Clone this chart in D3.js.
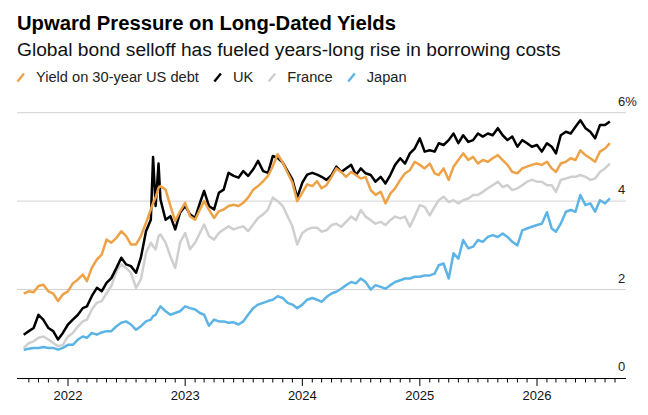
<!DOCTYPE html>
<html><head><meta charset="utf-8">
<script src="https://cdn.jsdelivr.net/npm/d3@7"></script>
<style>
html,body{margin:0;padding:0;background:#fff;}
svg{display:block;font-family:"Liberation Sans",Arial,sans-serif;}
</style></head>
<body><svg id="c" width="648" height="415"></svg>
<script>
const title = "Upward Pressure on Long-Dated Yields";
const subtitle = "Global bond selloff has fueled years-long rise in borrowing costs";
const seriesNames = ["Yield on 30-year US debt", "UK", "France", "Japan"];
const yTicks = [0, 2, 4, 6];
const yearTicks = ["2022", "2023", "2024", "2025", "2026"];

const dates = [
"2021-08-16","2021-09-01","2021-09-16","2021-10-01","2021-10-16","2021-11-01","2021-11-16","2021-12-01","2021-12-16",
"2022-01-01","2022-01-16","2022-02-01","2022-02-16","2022-03-01","2022-03-16","2022-04-01","2022-04-16","2022-05-01","2022-05-16","2022-06-01","2022-06-16","2022-07-01","2022-07-16","2022-08-01","2022-08-16","2022-09-01","2022-09-16","2022-09-23","2022-10-01","2022-10-10","2022-10-16","2022-11-01","2022-11-16","2022-12-01","2022-12-16",
"2023-01-01","2023-01-16","2023-02-01","2023-02-16","2023-03-01","2023-03-16","2023-04-01","2023-04-16","2023-05-01","2023-05-16","2023-06-01","2023-06-16","2023-07-01","2023-07-16","2023-08-01","2023-08-16","2023-09-01","2023-09-16","2023-10-01","2023-10-16","2023-11-01","2023-11-16","2023-12-01","2023-12-16",
"2024-01-01","2024-01-16","2024-02-01","2024-02-16","2024-03-01","2024-03-16","2024-04-01","2024-04-16","2024-05-01","2024-05-16","2024-06-01","2024-06-16","2024-07-01","2024-07-16","2024-08-01","2024-08-16","2024-09-01","2024-09-16","2024-10-01","2024-10-16","2024-11-01","2024-11-16","2024-12-01","2024-12-16",
"2025-01-01","2025-01-16","2025-02-01","2025-02-16","2025-03-01","2025-03-16","2025-04-01","2025-04-16","2025-05-01","2025-05-16","2025-06-01","2025-06-16","2025-07-01","2025-07-16","2025-08-01","2025-08-16","2025-09-01","2025-09-16","2025-10-01","2025-10-16","2025-11-01","2025-11-16","2025-12-01","2025-12-16",
"2026-01-01","2026-01-16","2026-02-01","2026-02-16","2026-03-01","2026-03-16","2026-04-01","2026-04-16","2026-05-01","2026-05-16","2026-06-01","2026-06-16","2026-07-01","2026-07-16","2026-08-01","2026-08-16"
];

const usYield = [
1.91,1.96,1.94,2.08,2.11,1.96,1.91,1.74,1.89,
1.96,2.14,2.23,2.34,2.19,2.49,2.68,2.79,3.13,3.06,3.17,3.32,3.21,3.02,3.02,3.21,3.51,3.81,3.96,4.08,4.30,4.34,4.26,3.89,3.55,3.77,
3.96,3.66,3.58,3.81,4.00,3.81,3.62,3.77,3.81,3.89,3.92,3.89,3.96,4.08,4.26,4.34,4.45,4.57,4.79,5.06,4.87,4.64,4.42,4.00,
4.19,4.38,4.34,4.45,4.29,4.36,4.55,4.74,4.66,4.55,4.66,4.59,4.51,4.55,4.25,4.14,4.21,3.95,4.17,4.29,4.48,4.63,4.70,4.89,
4.82,4.74,4.85,4.63,4.59,4.74,4.48,4.78,4.93,5.08,4.93,5.00,4.85,4.93,4.89,4.97,5.04,4.93,4.82,4.66,4.63,4.74,4.78,4.82,
4.85,4.82,4.89,4.74,4.66,4.85,4.89,4.97,4.93,5.15,5.04,4.97,4.89,5.12,5.19,5.31
];
const ukYield = [
0.98,1.06,1.13,1.43,1.32,1.13,1.06,0.87,1.02,
1.21,1.32,1.43,1.58,1.62,1.85,2.04,1.96,2.15,2.26,2.49,2.72,2.57,2.53,2.38,2.72,3.32,3.58,5.00,3.89,4.85,4.04,3.58,3.66,3.36,3.74,
3.89,3.70,3.62,3.96,4.23,3.89,3.81,4.19,4.26,4.64,4.57,4.53,4.68,4.57,4.72,4.91,4.68,4.64,5.02,4.98,4.87,4.68,4.49,4.08,
4.42,4.60,4.64,4.60,4.55,4.48,4.59,4.78,4.66,4.74,4.82,4.59,4.74,4.63,4.59,4.44,4.55,4.40,4.59,4.82,4.97,4.85,5.08,5.19,
5.42,5.12,5.15,5.12,5.31,5.27,5.38,5.53,5.31,5.49,5.34,5.38,5.53,5.46,5.53,5.49,5.65,5.49,5.38,5.46,5.23,5.38,5.31,5.23,
5.27,5.12,5.31,5.23,5.08,5.49,5.57,5.53,5.68,5.83,5.65,5.57,5.42,5.72,5.72,5.80
];
const franceYield = [
0.68,0.79,0.83,0.91,0.94,0.87,0.79,0.72,0.75,
0.94,1.02,1.17,1.28,1.32,1.55,1.70,1.74,1.92,2.08,2.42,2.57,2.49,2.38,2.04,2.23,2.83,3.06,2.98,2.91,3.21,3.25,3.06,2.75,2.49,3.06,
3.28,2.91,3.06,3.28,3.47,3.21,3.13,3.28,3.36,3.43,3.36,3.40,3.43,3.32,3.47,3.62,3.70,3.81,4.08,4.00,3.89,3.66,3.43,3.02,
3.28,3.36,3.40,3.40,3.31,3.34,3.46,3.49,3.42,3.53,3.65,3.57,3.80,3.65,3.57,3.49,3.53,3.46,3.57,3.65,3.61,3.65,3.42,3.65,
3.91,3.87,3.68,3.87,4.02,4.10,3.98,4.02,3.95,4.02,4.06,4.14,4.14,4.21,4.29,4.36,4.44,4.32,4.36,4.25,4.29,4.36,4.44,4.48,
4.44,4.44,4.36,4.36,4.21,4.48,4.51,4.55,4.55,4.59,4.55,4.48,4.51,4.66,4.74,4.85
];
const japanYield = [
0.64,0.66,0.68,0.68,0.70,0.68,0.68,0.64,0.68,
0.75,0.75,0.87,0.94,0.91,1.02,0.98,1.03,1.06,1.06,1.17,1.25,1.28,1.21,1.09,1.17,1.28,1.32,1.40,1.43,1.55,1.62,1.51,1.43,1.47,1.51,
1.62,1.58,1.55,1.47,1.43,1.18,1.32,1.28,1.28,1.25,1.26,1.21,1.28,1.43,1.58,1.66,1.70,1.74,1.77,1.85,1.81,1.70,1.66,1.58,
1.66,1.77,1.81,1.77,1.72,1.83,1.91,1.95,2.02,2.10,2.17,2.14,2.25,2.17,2.00,2.10,2.06,2.02,2.10,2.17,2.21,2.25,2.25,2.29,
2.29,2.32,2.32,2.36,2.55,2.59,2.25,2.82,2.70,3.12,2.93,2.97,3.12,3.08,3.19,3.23,3.19,3.27,3.19,3.08,3.00,3.34,3.38,3.42,
3.46,3.49,3.75,3.38,3.31,3.49,3.76,3.80,3.76,4.14,3.91,3.95,3.76,4.02,3.95,4.06
];

const colors = ["#eea248", "#000000", "#cfcfcf", "#5cb4e6"];
const seriesValues = [usYield, ukYield, franceYield, japanYield];

const parse = d3.timeParse("%Y-%m-%d");
const svg = d3.select("#c");
const left = 17, right = 626;

const x = d3.scaleTime()
  .domain([parse("2022-01-01"), parse("2026-01-01")])
  .range([68, 537]);
const y = d3.scaleLinear().domain([0, 6]).range([378, 112.7]);

// Title, subtitle
function fitText(sel, target) {
  const w = sel.node().getComputedTextLength();
  const fs = parseFloat(sel.attr("font-size"));
  sel.attr("font-size", (fs * target / w).toFixed(2));
}
const t = svg.append("text").attr("x", left).attr("y", 29.5)
  .attr("font-size", 19).attr("font-weight", "bold").attr("fill", "#000").text(title);
fitText(t, 379);
const st = svg.append("text").attr("x", left).attr("y", 56)
  .attr("font-size", 17).attr("fill", "#111").text(subtitle);
fitText(st, 544);

// Legend
const legend = svg.append("g");
let lx = left;
const lfs = (function(){
  const tmp = svg.append("text").attr("font-size", 14).text(seriesNames[0]);
  const w = tmp.node().getComputedTextLength(); tmp.remove();
  return 14 * 163 / w;
})();
seriesNames.forEach((name, i) => {
  legend.append("line").attr("x1", lx + 0.5).attr("y1", 81.5).attr("x2", lx + 7).attr("y2", 73.5)
    .attr("stroke", colors[i]).attr("stroke-width", 2.4).attr("stroke-linecap", "butt");
  const tx = legend.append("text").attr("x", lx + 19).attr("y", 81.7)
    .attr("font-size", lfs).attr("fill", "#222").text(name);
  lx = lx + 19 + tx.node().getComputedTextLength() + 15;
});

// Gridlines
const grid = svg.append("g");
yTicks.filter(v => v > 0).forEach(v => {
  grid.append("line").attr("x1", left).attr("x2", right)
    .attr("y1", y(v)).attr("y2", y(v)).attr("stroke", "#d2d2d2").attr("stroke-width", 1);
});
yTicks.forEach(v => {
  svg.append("text").attr("x", 618).attr("y", y(v) - 7)
    .attr("font-size", 13).attr("fill", "#222").text(v === 6 ? "6%" : String(v));
});

// Lines (Japan first, US on top)
const line = d3.line()
  .x((d, i) => x(parse(dates[i])))
  .y(d => y(d))
  .curve(d3.curveLinear);
[3, 2, 1, 0].forEach(k => {
  svg.append("path").datum(seriesValues[k])
    .attr("d", line)
    .attr("fill", "none")
    .attr("stroke", colors[k])
    .attr("stroke-width", 2.5)
    .attr("stroke-linejoin", "round");
});

// X axis
const ax = svg.append("g");
ax.append("line").attr("x1", left).attr("x2", right).attr("y1", 378.5).attr("y2", 378.5)
  .attr("stroke", "#000").attr("stroke-width", 1.2);
const months = d3.timeMonth.range(parse("2021-09-01"), parse("2026-09-02"));
months.forEach(m => {
  const major = m.getMonth() === 0;
  ax.append("line").attr("x1", x(m)).attr("x2", x(m))
    .attr("y1", 378.5).attr("y2", major ? 386 : 382.5)
    .attr("stroke", "#000").attr("stroke-width", 1);
});
yearTicks.forEach(yr => {
  ax.append("text").attr("x", x(parse(yr + "-01-01"))).attr("y", 400)
    .attr("text-anchor", "middle").attr("font-size", 13).attr("fill", "#111").text(yr);
});
</script></body></html>
